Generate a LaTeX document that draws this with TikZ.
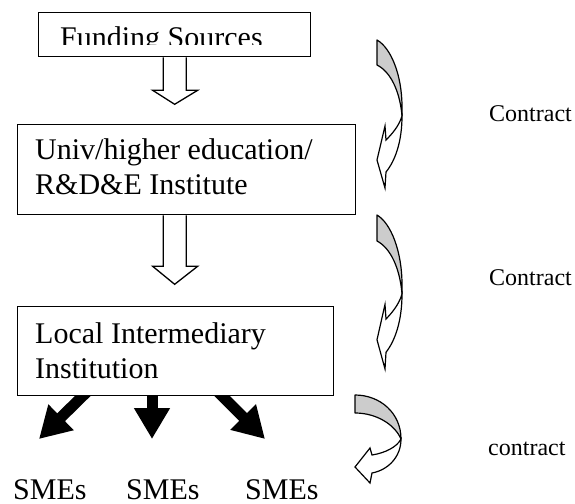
\documentclass[tikz,border=0pt]{standalone}
\usepackage{fontspec}
\setmainfont{Liberation Serif}
\usetikzlibrary{arrows.meta,calc}
\begin{document}
\begin{tikzpicture}[x=1pt,y=-1pt,
  box/.style={draw,line width=1.3pt,inner sep=0pt,anchor=north west},
  bigtxt/.style={inner sep=0pt,anchor=base west,font=\fontsize{30}{34}\selectfont},
  smalltxt/.style={inner sep=0pt,anchor=base west,font=\fontsize{24}{28}\selectfont},
  hollow/.style={draw,line width=1.3pt,fill=white,line join=miter},
  solidarrow/.style={line width=11pt,-{Triangle[width=34pt,length=31pt]}},
  backface/.style={draw,line width=1.2pt,fill=black!20,line join=round},
  frontface/.style={draw,line width=1.2pt,fill=white,line join=miter},
  bentdown/.pic={
    \path[backface] (0,0) .. controls (14,8) and (25,35) .. (25,67) -- (25,76)
      .. controls (23,52) and (14,32) .. (0,25) -- cycle;
    \path[frontface] (25,76) .. controls (25,102) and (18,121) .. (9,132) -- (8,148)
      -- (0,120) -- (8,86) -- (9,100) .. controls (15,94) and (22,86) .. (25,76) -- cycle;
  },
  bentleft/.pic={
    \path[backface] (0,0) .. controls (25,0) and (46,18) .. (46,44)
      .. controls (40,30) and (22,18) .. (0,18) -- cycle;
    \path[frontface] (46,44) .. controls (46,62) and (33,75) .. (17,78) -- (15,88)
      -- (0,72) -- (15,53) -- (17,60) .. controls (30,58) and (42,52) .. (46,44) -- cycle;
  }]
\useasboundingbox (0,0) rectangle (575,503);

% boxes
\node[box,minimum width=272pt,minimum height=44pt] (fund) at (38,12) {};
\node[box,minimum width=338pt,minimum height=90pt] (univ) at (17,124) {};
\node[box,minimum width=316pt,minimum height=89pt] (local) at (17,306) {};

% box texts
\begin{scope}
  \clip (38,12) rectangle (310,45);
  \node[bigtxt] (fundtxt) at (60,48) {Funding Sources};
\end{scope}
\node[bigtxt] (univa) at (35,159) {Univ/higher education/};
\node[bigtxt] (univb) at (35,194) {R\&D\&E Institute};
\node[bigtxt] (loca) at (35,343) {Local Intermediary};
\node[bigtxt] (locb) at (35,378) {Institution};

% hollow block arrows
\draw[hollow] ($(fund.south)+(-11.5,0)$) -- ++(0,33) -- ++(-10.5,0)
  -- ($(fund.south)+(0,47)$) -- ($(fund.south)+(23,33)$) -- ++(-11.5,0)
  -- ($(fund.south)+(11.5,0)$);
\coordinate (u) at (univ.south -| fund.south);
\draw[hollow] ($(u)+(-11.5,0)$) -- ++(0,51) -- ++(-10.5,0)
  -- ($(u)+(0,69)$) -- ($(u)+(23,51)$) -- ++(-11.5,0)
  -- ($(u)+(11.5,0)$);

% SMEs
\node[bigtxt] (sme1) at (13,499) {SMEs};
\node[bigtxt] (sme2) at (126,499) {SMEs};
\node[bigtxt] (sme3) at (245,499) {SMEs};

% solid arrows
\coordinate (t1) at (39,439);
\coordinate (t2) at (152,439);
\coordinate (t3) at (265,439);
\begin{scope}
  \clip (0,395) rectangle (575,503);
  \draw[solidarrow] ($(local.south west)+(71.5,-6)$) -- (t1);
  \draw[solidarrow] ($(local.south west)+(135,-6)$) -- (t2);
  \draw[solidarrow] ($(local.south west)+(199.5,-6)$) -- (t3);
\end{scope}

% curved arrows
\pic at (377,40) {bentdown};
\pic[yscale=1.04] at (377,215) {bentdown};
\pic at (355,395) {bentleft};

% contract labels
\node[smalltxt] (c1) at (489,121) {Contract};
\node[smalltxt] (c2) at (489,285) {Contract};
\node[smalltxt] (c3) at (488,455) {contract};
\end{tikzpicture}
\end{document}
